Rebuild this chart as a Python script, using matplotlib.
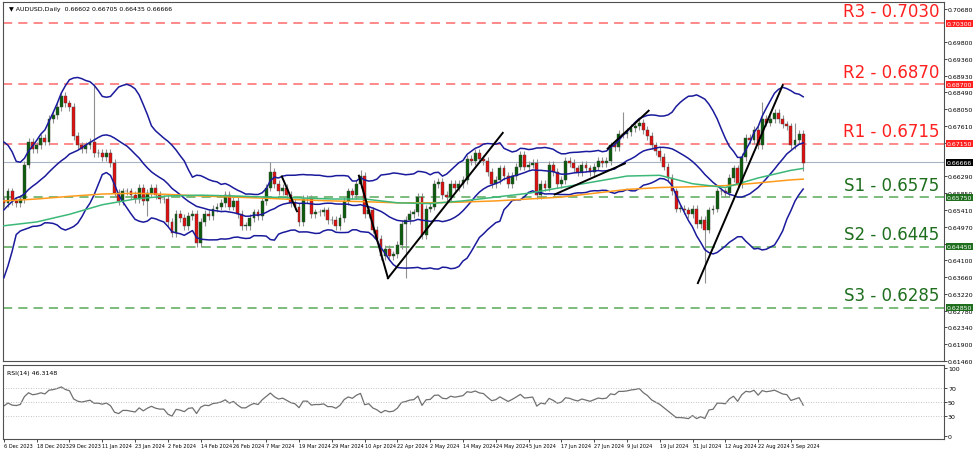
#!/usr/bin/env python3
import numpy as np
import pandas as pd
import matplotlib.pyplot as plt

# warm-up closes (Nov 2023) used only for the indicators
PRE_CLOSES = [0.6420, 0.6395, 0.6360, 0.6360, 0.6370, 0.6500, 0.6520, 0.6490, 0.6525, 0.6555,
              0.6545, 0.6545, 0.6555, 0.6580, 0.6610, 0.6660, 0.6670, 0.6610, 0.6640, 0.6610, 0.6565]

# daily closes 6 Dec 2023 .. 6 Sep 2024
CLOSES = [
    0.6560, 0.6590, 0.6565, 0.6560, 0.6570, 0.6660, 0.6720, 0.6700, 0.6710, 0.6730,   # Dec
    0.6720, 0.6780, 0.6790, 0.6810, 0.6840, 0.6820, 0.6810,
    0.6735, 0.6710, 0.6700, 0.6710, 0.6720, 0.6690, 0.6690, 0.6680, 0.6690, 0.6665,   # Jan
    0.6585, 0.6565, 0.6590, 0.6590, 0.6580, 0.6570, 0.6600, 0.6565, 0.6585, 0.6600,
    0.6580, 0.6570,
    0.6570, 0.6510, 0.6480, 0.6530, 0.6520, 0.6500, 0.6525, 0.6530, 0.6455, 0.6510,   # Feb
    0.6530, 0.6525, 0.6545, 0.6550, 0.6560, 0.6580, 0.6550, 0.6565, 0.6530, 0.6500,
    0.6500,
    0.6520, 0.6535, 0.6525, 0.6565, 0.6600, 0.6640, 0.6610, 0.6590, 0.6600, 0.6580,   # Mar
    0.6560, 0.6550, 0.6510, 0.6570, 0.6570, 0.6530, 0.6535, 0.6535, 0.6540, 0.6515,
    0.6515,
    0.6500, 0.6520, 0.6565, 0.6590, 0.6580, 0.6610, 0.6630, 0.6530, 0.6540, 0.6490,   # Apr
    0.6465, 0.6420, 0.6440, 0.6420, 0.6425, 0.6450, 0.6505, 0.6515, 0.6530, 0.6535,
    0.6575, 0.6475,
    0.6545, 0.6550, 0.6610, 0.6615, 0.6580, 0.6575, 0.6610, 0.6600, 0.6610, 0.6620,   # May
    0.6675, 0.6670, 0.6690, 0.6675, 0.6670, 0.6640, 0.6610, 0.6620, 0.6650, 0.6630,
    0.6610, 0.6630, 0.6655,
    0.6685, 0.6655, 0.6660, 0.6665, 0.6580, 0.6610, 0.6600, 0.6660, 0.6640, 0.6610,   # Jun
    0.6620, 0.6670, 0.6665, 0.6650, 0.6640, 0.6660, 0.6650, 0.6640, 0.6655, 0.6670,
    0.6665, 0.6670, 0.6710, 0.6705, 0.6740, 0.6740, 0.6745, 0.6755, 0.6760, 0.6770,   # Jul
    0.6750, 0.6735, 0.6710, 0.6695, 0.6680, 0.6655, 0.6625, 0.6590, 0.6545, 0.6545,
    0.6540, 0.6530, 0.6545,
    0.6505, 0.6515, 0.6490, 0.6540, 0.6545, 0.6590, 0.6590, 0.6585, 0.6625, 0.6650,   # Aug
    0.6610, 0.6680, 0.6730, 0.6725, 0.6750, 0.6710, 0.6780, 0.6770, 0.6780, 0.6795,
    0.6780, 0.6765,
    0.6760, 0.6710, 0.6725, 0.6740, 0.6665,                                           # Sep
]
FIRST_OPEN = 0.6565
WICK = 0.0010
EXTRA_HIGH = {22: 0.6871, 65: 0.6668, 87: 0.6645, 151: 0.6798, 185: 0.6824, 193: 0.6768}
EXTRA_LOW = {35: 0.6525, 98: 0.6362, 171: 0.6349, 195: 0.6644}

LAST_BAR = "0.66602 0.66705 0.66435 0.66666"
LEVELS = [("R3", 0.7030, "r"), ("R2", 0.6870, "r"), ("R1", 0.6715, "r"),
          ("S1", 0.6575, "s"), ("S2", 0.6445, "s"), ("S3", 0.6285, "s")]
CURRENT = 0.66666
PRICE_TICKS = [0.70680, 0.69800, 0.69360, 0.68930, 0.68490, 0.68050, 0.67610, 0.67170,
               0.66290, 0.65850, 0.65410, 0.64970, 0.64530, 0.64100, 0.63660, 0.63220,
               0.62780, 0.62340, 0.61900, 0.61460]

# moving averages every 8 bars
MA_IDX = [0, 8, 16, 24, 32, 40, 48, 56, 64, 72, 80, 88, 96, 104, 112, 120, 128, 136,
          144, 152, 160, 168, 176, 184, 192, 195]
MA_SLOW = [0.6565, 0.6570, 0.6577, 0.6583, 0.6585, 0.6582, 0.6578, 0.6575, 0.6572, 0.6568,
           0.6565, 0.6563, 0.6560, 0.6560, 0.6562, 0.6565, 0.6570, 0.6575, 0.6585, 0.6595,
           0.6600, 0.6602, 0.6605, 0.6612, 0.6620, 0.6622]
MA_FAST = [0.6500, 0.6510, 0.6530, 0.6555, 0.6570, 0.6578, 0.6580, 0.6578, 0.6575, 0.6573,
           0.6570, 0.6570, 0.6560, 0.6558, 0.6565, 0.6575, 0.6585, 0.6600, 0.6615, 0.6630,
           0.6632, 0.6610, 0.6600, 0.6625, 0.6645, 0.6650]

# hand drawn trend lines: (bar0, price0, bar1, price1)
TRENDLINES = [(67.8, 0.6629, 71.5, 0.6538), (86.6, 0.6631, 93.7, 0.6363),
              (93.7, 0.6363, 121.7, 0.6743), (134.4, 0.6582, 151.5, 0.6663),
              (147.3, 0.6702, 157.3, 0.6801), (169.3, 0.6350, 190.0, 0.6868)]

dates = pd.bdate_range("2023-12-06", "2024-09-06")
dates = [d for d in dates if not (d.month == 12 and d.day == 25) and not (d.month == 1 and d.day == 1)]
n = len(CLOSES)
dates = dates[:n]

closes = np.array(CLOSES)
opens = np.concatenate([[FIRST_OPEN], closes[:-1]])
highs = np.maximum(opens, closes) + WICK
lows = np.minimum(opens, closes) - WICK
for i, v in EXTRA_HIGH.items():
    highs[i] = v
for i, v in EXTRA_LOW.items():
    lows[i] = v

allc = pd.Series(PRE_CLOSES + CLOSES)
mid = allc.rolling(20).mean()
sd = allc.rolling(20).std(ddof=0)
k = len(PRE_CLOSES)
bb_up = (mid + 2 * sd).values[k:]
bb_mid = mid.values[k:]
bb_lo = (mid - 2 * sd).values[k:]

delta = allc.diff()
gain = delta.clip(lower=0).ewm(alpha=1 / 14, adjust=False).mean()
loss = (-delta.clip(upper=0)).ewm(alpha=1 / 14, adjust=False).mean()
rsi = (100 - 100 / (1 + gain / loss)).values[k:]

fig = plt.figure(figsize=(9.75, 4.52), dpi=100)
ax = fig.add_axes([0.003, 0.199, 0.965, 0.794])
axr = fig.add_axes([0.003, 0.027, 0.965, 0.163])
x = np.arange(n)

for i in range(n):
    up = closes[i] >= opens[i]
    ax.vlines(i, lows[i], highs[i], color="#909090", lw=0.8, zorder=2)
    ax.bar(i, abs(closes[i] - opens[i]) or 0.00008, bottom=min(opens[i], closes[i]), width=0.7,
           color="#0b5d0b" if up else "#e01010", edgecolor="#404040", lw=0.3, zorder=3)

ax.plot(x, bb_up, color="#1a1a9c", lw=1.1, zorder=4)
ax.plot(x, bb_mid, color="#1a1a9c", lw=1.1, zorder=4)
ax.plot(x, bb_lo, color="#1a1a9c", lw=1.1, zorder=4)
ax.plot(MA_IDX, MA_SLOW, color="#ff9a1a", lw=1.1, zorder=4)
ax.plot(MA_IDX, MA_FAST, color="#3cb878", lw=1.1, zorder=4)
for a, pa, b, pb in TRENDLINES:
    ax.plot([a, b], [pa, pb], color="black", lw=1.4, zorder=5)

xmin, xmax = -0.24, 229.3
for name, val, kind in LEVELS:
    col = "#ff5050" if kind == "r" else "#3a9a3a"
    tcol = "#ff2020" if kind == "r" else "#1e6e1e"
    ax.axhline(val, color=col, lw=1.1, ls=(0, (6, 4)), alpha=0.85, zorder=1)
    ax.text(xmax - 1, val + 0.0009, f"{name} - {val:.4f}", color=tcol, fontsize=12,
            ha="right", va="bottom", zorder=6)
    ax.text(1.003, val, f"{val:.5f}", transform=ax.get_yaxis_transform(), fontsize=4.5,
            color="white", va="center", ha="left",
            bbox=dict(boxstyle="square,pad=0.15", fc="#ff2020" if kind == "r" else "#1e6e1e", ec="none"))
ax.axhline(CURRENT, color="#a8b4c4", lw=0.8, zorder=1)
ax.text(1.003, CURRENT, f"{CURRENT:.5f}", transform=ax.get_yaxis_transform(), fontsize=4.5,
        color="white", va="center", ha="left",
        bbox=dict(boxstyle="square,pad=0.15", fc="black", ec="none"))

ax.set_xlim(xmin, xmax)
ax.set_ylim(0.6150, 0.7085)
ax.yaxis.tick_right()
ax.set_yticks(PRICE_TICKS)
ax.set_yticklabels([f"{t:.5f}" for t in PRICE_TICKS], fontsize=4.5)
ax.tick_params(axis="y", length=2, width=0.5, pad=1)
ax.set_xticks([])
ax.text(0.006, 0.99, "\u25bc AUDUSD,Daily  " + LAST_BAR, transform=ax.transAxes,
        fontsize=4.5, va="top", ha="left")

axr.plot(x, rsi, color="#707070", lw=0.9)
for lvl in (30, 50, 70):
    axr.axhline(lvl, color="#b0b0b0", lw=0.6, ls=(0, (1, 2)))
axr.set_xlim(xmin, xmax)
axr.set_ylim(-4, 104)
axr.yaxis.tick_right()
axr.set_yticks([0, 30, 50, 70, 100])
axr.set_yticklabels(["0", "30", "50", "70", "100"], fontsize=4.5)
axr.tick_params(axis="y", length=2, width=0.5, pad=1)
tick_idx = list(range(0, n, 8))
axr.set_xticks(tick_idx)
axr.set_xticklabels([f"{dates[i].day} {dates[i].strftime('%b %Y')}" for i in tick_idx],
                    fontsize=3.6, ha="left")
axr.tick_params(axis="x", length=2, width=0.5, pad=1)
axr.text(0.004, 0.93, f"RSI(14) {46.3148:.4f}", transform=axr.transAxes, fontsize=4.5, va="top")

for a in (ax, axr):
    for s in a.spines.values():
        s.set_linewidth(0.8)
        s.set_color("#505050")

fig.savefig("out.png", dpi=100)
